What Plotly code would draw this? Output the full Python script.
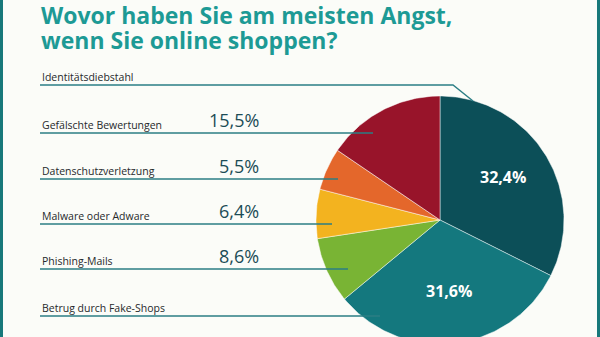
import numpy as np
import plotly.graph_objects as go

# ---- data ----
categories = ["Identitätsdiebstahl", "Betrug durch Fake-Shops", "Phishing-Mails",
              "Malware oder Adware", "Datenschutzverletzung", "Gefälschte Bewertungen"]
values = [32.4, 31.6, 8.6, 6.4, 5.5, 15.5]
value_labels = ["32,4%", "31,6%", "8,6%", "6,4%", "5,5%", "15,5%"]
colors = ["#0c4f58", "#14787e", "#79b434", "#f3b31f", "#e4672b", "#98142a"]

title_lines = ["Wovor haben Sie am meisten Angst,", "wenn Sie online shoppen?"]

# ---- layout (pixel coordinate system) ----
W, H = 600, 337
cx, cy, R = 440, 220, 124
TEAL = "#1d9a95"
LINE = "#2b7e85"
BG = "#fbfcf8"

row_order = ["Identitätsdiebstahl", "Gefälschte Bewertungen", "Datenschutzverletzung",
             "Malware oder Adware", "Phishing-Mails", "Betrug durch Fake-Shops"]
row_line_y = [85, 133, 179, 224, 269, 316]
row_end_x = [453, 373, 338, 332, 348, 380]
label_x = 40
title_y = [14.5, 40]

fig = go.Figure()

total = sum(values)
start = 0.0
mid_angles = []
for cat, v, col in zip(categories, values, colors):
    a0 = start / total * 2 * np.pi
    a1 = (start + v) / total * 2 * np.pi
    th = np.linspace(a0, a1, max(8, int(v * 4)))
    xs = np.concatenate([[cx], cx + R * np.sin(th), [cx]])
    ys = np.concatenate([[cy], cy - R * np.cos(th), [cy]])
    fig.add_trace(go.Scatter(x=xs, y=ys, mode="lines", fill="toself", fillcolor=col,
                             line=dict(color="rgba(255,255,255,0.6)", width=0.8),
                             hoverinfo="text", text=cat, showlegend=False))
    mid_angles.append((a0 + a1) / 2)
    start += v

for name, ly, ex in zip(row_order, row_line_y, row_end_x):
    if name == "Identitätsdiebstahl":
        xs = [label_x, ex, ex + 20]
        ys = [ly, ly, ly + 16]
    else:
        xs = [label_x, ex]
        ys = [ly, ly]
    fig.add_trace(go.Scatter(x=xs, y=ys, mode="lines", line=dict(color=LINE, width=1.4),
                             hoverinfo="skip", showlegend=False))

annotations = []
for name, ly in zip(row_order, row_line_y):
    annotations.append(dict(x=label_x, y=ly + 1, xref="x", yref="y", text=name,
                            showarrow=False, xanchor="left", yanchor="bottom",
                            font=dict(family="Open Sans", size=10.5, color="#26292b")))
for name, ly in zip(row_order, row_line_y):
    i = categories.index(name)
    if values[i] < 20:
        annotations.append(dict(x=261, y=ly + 1, xref="x", yref="y", text=value_labels[i],
                                showarrow=False, xanchor="right", yanchor="bottom",
                                font=dict(family="Open Sans", size=18, color="#1c4c56")))
inside_pos = {"Identitätsdiebstahl": 0.6, "Betrug durch Fake-Shops": 0.61}
for i, cat in enumerate(categories):
    if cat in inside_pos:
        f = inside_pos[cat]
        ang = mid_angles[i]
        annotations.append(dict(x=cx + f * R * np.sin(ang), y=cy - f * R * np.cos(ang) - 4,
                                xref="x", yref="y", text="<b>" + value_labels[i] + "</b>",
                                showarrow=False,
                                font=dict(family="Open Sans", size=16, color="white")))
for t, ty in zip(title_lines, title_y):
    annotations.append(dict(x=label_x - 1, y=ty, xref="x", yref="y", text="<b>" + t + "</b>",
                            showarrow=False, xanchor="left", yanchor="middle", align="left",
                            font=dict(family="Open Sans", size=23, color=TEAL)))

shapes = [
    dict(type="rect", xref="paper", yref="paper", x0=0, x1=3 / W, y0=0, y1=1,
         fillcolor="#17787a", line=dict(width=0)),
    dict(type="rect", xref="paper", yref="paper", x0=597 / W, x1=1, y0=0, y1=1,
         fillcolor="#17787a", line=dict(width=0)),
]

fig.update_layout(
    width=W, height=H, margin=dict(l=0, r=0, t=0, b=0),
    paper_bgcolor=BG, plot_bgcolor=BG,
    xaxis=dict(range=[0, W], visible=False, fixedrange=True),
    yaxis=dict(range=[H, 0], visible=False, fixedrange=True),
    annotations=annotations, shapes=shapes, showlegend=False,
)

fig.write_html("out.html")
